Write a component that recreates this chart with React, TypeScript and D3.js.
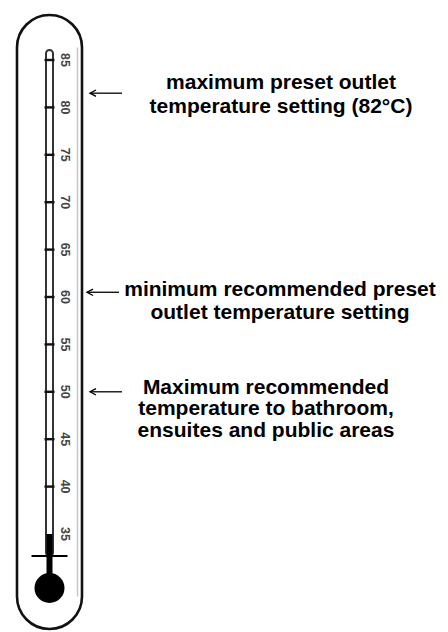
import * as d3 from "d3";

// scale readings along the thermometer (°C)
const scaleMin = 35;
const scaleMax = 85;
const tickValues = [40, 45, 50, 55, 60, 65, 70, 75, 80, 85];
const labelValues = [35, 40, 45, 50, 55, 60, 65, 70, 75, 80, 85];
const mercuryLevel = 35;

// where each arrow points on the scale
const arrowValues = [81.5, 60.5, 50];
const annotationLines = [
	["maximum preset outlet", "temperature setting (82°C)"],
	["minimum recommended preset", "outlet temperature setting"],
	["Maximum recommended", "temperature to bathroom,", "ensuites and public areas"],
];

// layout of the annotation blocks (not data)
const textCenterX = [281, 280, 266];
const textFirstDy = [-4, 4, 2];
const textLineHeight = [24, 23, 21.5];
const arrowX = [
	[90, 122],
	[87, 119],
	[90, 122],
];

const width = 448;
const height = 632;

export default function App() {
	const y = d3.scaleLinear().domain([scaleMin, scaleMax]).range([534, 60]);

	const cx = 49.5;
	const body = { left: 17, right: 82, top: 15, bottom: 629 };
	const bodyR = (body.right - body.left) / 2;
	const tubeW = 7;
	const tubeTop = 50;
	const bulb = { cy: 588, r: 15 };
	const crossY = 556;

	const arrowHead = (x: number, yy: number) =>
		`M${x + 6},${yy - 3.2} L${x},${yy} L${x + 6},${yy + 3.2}`;

	return (
		<svg
			width={width}
			height={height}
			style={{ position: "absolute", left: 0, top: 0, background: "#fff" }}
		>
			{/* outer glass body */}
			<rect
				x={body.left}
				y={body.top}
				width={body.right - body.left}
				height={body.bottom - body.top}
				rx={bodyR}
				ry={bodyR}
				fill="white"
				stroke="#111"
				strokeWidth={2.6}
			/>
			<line
				x1={body.right - 4.5}
				x2={body.right - 4.5}
				y1={body.top + bodyR}
				y2={body.bottom - bodyR}
				stroke="#c8c8c8"
				strokeWidth={1.5}
			/>

			{/* capillary tube */}
			<rect
				x={cx - tubeW / 2}
				y={tubeTop}
				width={tubeW}
				height={crossY - tubeTop}
				rx={tubeW / 2}
				fill="white"
				stroke="#333"
				strokeWidth={2}
			/>

			{/* scale ticks */}
			{tickValues.map((t) => (
				<rect key={t} x={cx - 5} y={y(t) - 1.2} width={10} height={2.4} fill="#111" />
			))}

			{/* mercury column and bulb */}
			<rect
				x={cx - 3}
				y={y(mercuryLevel)}
				width={6}
				height={bulb.cy - y(mercuryLevel)}
				fill="#000"
			/>
			<line x1={cx - 18} x2={cx + 18} y1={crossY} y2={crossY} stroke="#000" strokeWidth={2.2} />
			<circle cx={cx} cy={bulb.cy} r={bulb.r} fill="#000" />

			{/* rotated scale labels */}
			{labelValues.map((t) => (
				<text
					key={t}
					transform={`translate(${cx + 16},${y(t)}) rotate(90)`}
					textAnchor="middle"
					dy="0.36em"
					fontFamily="'Liberation Sans', Arial, sans-serif"
					fontWeight="bold"
					fontSize={12.5}
					fill="#444"
				>
					{t}
				</text>
			))}

			{/* arrows and annotations */}
			{arrowValues.map((v, i) => {
				const ay = y(v);
				const [x0, x1] = arrowX[i];
				return (
					<g key={i}>
						<line x1={x0} x2={x1} y1={ay} y2={ay} stroke="#000" strokeWidth={1.3} />
						<path d={arrowHead(x0, ay)} fill="none" stroke="#000" strokeWidth={1.3} />
						<text
							x={textCenterX[i]}
							y={ay + textFirstDy[i]}
							textAnchor="middle"
							fontFamily="'Liberation Sans', Arial, sans-serif"
							fontWeight="bold"
							fontSize={21}
							fill="#000"
						>
							{annotationLines[i].map((line, j) => (
								<tspan key={j} x={textCenterX[i]} dy={j === 0 ? 0 : textLineHeight[i]}>
									{line}
								</tspan>
							))}
						</text>
					</g>
				);
			})}
		</svg>
	);
}
